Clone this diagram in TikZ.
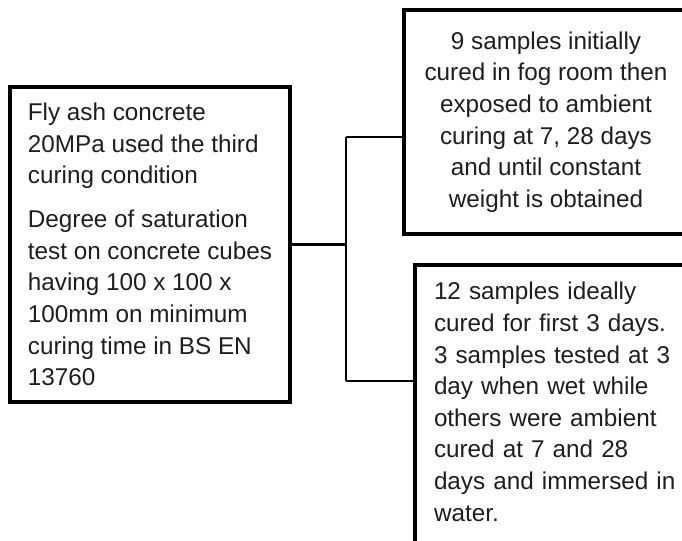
\documentclass[tikz,border=0pt]{standalone}
\usepackage{fontspec}
\setmainfont{Liberation Sans}
\definecolor{inkc}{RGB}{30,30,30}
\begin{document}
\begin{tikzpicture}[x=0.75pt,y=-0.75pt,
  boxstyle/.style={draw=black,line width=3pt,fill=white,text=inkc,
    font=\fontsize{18.2}{23.7}\selectfont},
  boxline/.style={draw=black,line width=3pt},
  linkstyle/.style={draw=black,line width=1.9pt}]
\useasboundingbox (0,0) rectangle (682,540);
\clip (0,0) rectangle (682,540);
\coordinate (jt) at (346,137);
\coordinate (jb) at (346,381);
\node[boxstyle,align=left,minimum width=210pt,minimum height=236.25pt,inner sep=0pt] (L) at (150,244.5)
 {Fly ash concrete\\20MPa used the third\\curing condition\\[9.3pt]Degree of saturation\\test on concrete cubes\\having 100 x 100 x\\100mm on minimum\\curing time in BS EN\\13760};
\node[boxstyle,draw=none,align=center,minimum width=210pt,minimum height=165pt,inner sep=0pt] (T) at (546,122)
 {9 samples initially\\cured in fog room then\\exposed to ambient\\curing at 7, 28 days\\and until constant\\weight is obtained};
\draw[boxline] (T.north west) rectangle ([xshift=30pt]T.south east);
\node[boxstyle,align=left,anchor=north west,text width=195pt,inner xsep=14.25pt,inner ysep=13pt] (B) at (413,263)
 {12 samples ideally\\cured for first 3 days.\\3 samples tested at 3\\day when wet while\\others were ambient\\cured at 7 and 28\\days and immersed in\\water.\rule[-40pt]{0pt}{40pt}};
\draw[linkstyle] (L.east) -- (L.east -| jt);
\draw[linkstyle] (jt) -- (jb);
\draw[linkstyle] (jt) -- (jt -| T.west);
\draw[linkstyle] (jb) -- (jb -| B.west);
\end{tikzpicture}
\end{document}
